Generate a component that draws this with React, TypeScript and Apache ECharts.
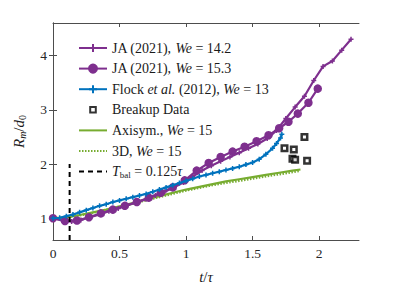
import React, { useEffect, useRef } from "react";
import * as echarts from "echarts";

const xTicks = [0, 0.5, 1, 1.5, 2];
const yTicks = [1, 2, 3, 4];

const ja142: number[][] = [
  [0, 1.0], [0.07, 0.96], [0.14, 0.94], [0.21, 0.97], [0.28, 1.02], [0.35, 1.07], [0.42, 1.13],
  [0.49, 1.18], [0.56, 1.24], [0.63, 1.29], [0.7, 1.35], [0.77, 1.42], [0.84, 1.49], [0.91, 1.57],
  [0.98, 1.66], [1.05, 1.77], [1.12, 1.88], [1.19, 1.97], [1.26, 2.05], [1.33, 2.13], [1.4, 2.21],
  [1.47, 2.29], [1.54, 2.37], [1.61, 2.47], [1.68, 2.62], [1.75, 2.84], [1.82, 3.05], [1.89, 3.25],
  [1.96, 3.54], [2.03, 3.8], [2.1, 3.9], [2.17, 4.1], [2.24, 4.3],
];

const ja153: number[][] = [
  [0, 1.0], [0.09, 0.95], [0.18, 0.96], [0.27, 1.02], [0.36, 1.09], [0.45, 1.16], [0.54, 1.23],
  [0.63, 1.3], [0.72, 1.38], [0.81, 1.47], [0.9, 1.57], [0.99, 1.7], [1.08, 1.88], [1.17, 2.02],
  [1.26, 2.13], [1.35, 2.23], [1.44, 2.32], [1.53, 2.42], [1.62, 2.53], [1.7, 2.66], [1.77, 2.78],
  [1.84, 2.93], [1.92, 3.13], [1.99, 3.39],
];

const flock: number[][] = [
  [0, 1.0], [0.05, 1.01], [0.1, 1.04], [0.15, 1.07], [0.2, 1.11], [0.25, 1.15], [0.3, 1.19],
  [0.35, 1.23], [0.4, 1.26], [0.45, 1.3], [0.5, 1.33], [0.55, 1.36], [0.6, 1.39], [0.65, 1.42],
  [0.7, 1.45], [0.75, 1.49], [0.8, 1.53], [0.85, 1.57], [0.9, 1.61], [0.95, 1.65], [1.0, 1.69],
  [1.05, 1.73], [1.1, 1.77], [1.15, 1.8], [1.2, 1.83], [1.25, 1.86], [1.3, 1.89], [1.35, 1.92],
  [1.4, 1.95], [1.45, 1.99], [1.5, 2.03], [1.55, 2.09], [1.6, 2.18], [1.65, 2.29], [1.68, 2.38],
  [1.71, 2.48], [1.72, 2.55],
];

const breakup: number[][] = [
  [1.89, 2.5], [1.74, 2.29], [1.81, 2.27], [1.8, 2.1], [1.82, 2.08], [1.91, 2.06],
];

const axisym: number[][] = [
  [0, 1.0], [0.1, 1.02], [0.2, 1.06], [0.3, 1.11], [0.4, 1.16], [0.5, 1.22], [0.6, 1.28],
  [0.7, 1.35], [0.8, 1.41], [0.9, 1.47], [1.0, 1.53], [1.1, 1.58], [1.2, 1.63], [1.3, 1.68],
  [1.4, 1.72], [1.5, 1.76], [1.6, 1.8], [1.7, 1.84], [1.8, 1.88], [1.86, 1.9],
];

const threeD: number[][] = [
  [0, 1.0], [0.1, 1.02], [0.2, 1.05], [0.3, 1.1], [0.4, 1.15], [0.5, 1.21], [0.6, 1.27],
  [0.7, 1.33], [0.8, 1.39], [0.9, 1.45], [1.0, 1.51], [1.1, 1.56], [1.2, 1.61], [1.3, 1.65],
  [1.4, 1.69], [1.5, 1.73], [1.6, 1.77], [1.7, 1.81], [1.8, 1.85], [1.85, 1.87],
];

const tbal: number[][] = [[0.125, 0.6], [0.125, 2.0]];

const names = [
  "JA (2021), We = 14.2",
  "JA (2021), We = 15.3",
  "Flock et al. (2012), We = 13",
  "Breakup Data",
  "Axisym., We = 15",
  "3D, We = 15",
  "Tbal = 0.125τ",
];

const richNames: Record<string, string> = {
  [names[0]]: "{n|JA (2021), }{i|We}{n| = 14.2}",
  [names[1]]: "{n|JA (2021), }{i|We}{n| = 15.3}",
  [names[2]]: "{n|Flock }{i|et al.}{n| (2012), }{i|We}{n| = 13}",
  [names[3]]: "{n|Breakup Data}",
  [names[4]]: "{n|Axisym., }{i|We}{n| = 15}",
  [names[5]]: "{n|3D, }{i|We}{n| = 15}",
  [names[6]]: "{i|T}{s|bal}{n| = 0.125}{i|τ}",
};

const PURPLE = "#7E2F8E";
const BLUE = "#0072BD";
const GREEN = "#77AC30";
const FONT = "Liberation Serif";
const PLUS = "path://M-1,0H1M0,-1V1";

export default function App() {
  const ref = useRef<HTMLDivElement>(null);
  useEffect(() => {
    if (!ref.current) return;
    const chart = echarts.init(ref.current, null, { renderer: "svg" });
    const axisLine = { show: true, lineStyle: { color: "#4d4d4d", width: 1 } };
    const tickStyle = { show: true, inside: true, length: 4, lineStyle: { color: "#4d4d4d" } };
    const labelStyle = { fontFamily: FONT, fontSize: 13.5, color: "#262626", margin: 6 };
    const rich = {
      n: { fontFamily: FONT, fontSize: 14, color: "#1a1a1a" },
      i: { fontFamily: FONT, fontSize: 14, fontStyle: "italic", color: "#1a1a1a" },
      s: { fontFamily: FONT, fontSize: 9, color: "#1a1a1a", padding: [6, 0, 0, 0] },
    };
    chart.setOption({
      animation: false,
      grid: { left: 53, right: 40, top: 23, bottom: 44, containLabel: false },
      legend: {
        data: [
          { name: names[0] },
          { name: names[1] },
          { name: names[2] },
          { name: names[3], icon: "path://M0,0M10,10M2.2,2.2H7.8V7.8H2.2Z" },
          { name: names[4], itemStyle: { opacity: 0 } },
          { name: names[5], itemStyle: { opacity: 0 } },
          { name: names[6], itemStyle: { opacity: 0 } },
        ],
        orient: "vertical",
        left: 73,
        top: 36,
        itemWidth: 28,
        itemHeight: 10,
        itemGap: 6.6,
        formatter: (n: string) => richNames[n] || n,
        textStyle: { fontFamily: FONT, fontSize: 14, color: "#1a1a1a", rich },
      },
      xAxis: [
        {
          type: "value",
          min: 0,
          max: 2.3,
          position: "bottom",
          axisLine,
          splitLine: { show: false },
          axisTick: { ...tickStyle, customValues: xTicks },
          axisLabel: { ...labelStyle, customValues: xTicks, formatter: (v: number) => String(v) },
          name: "{i|t}{n|/}{i|τ}",
          nameLocation: "middle",
          nameGap: 29,
          nameTextStyle: { rich: { n: { ...rich.n, fontSize: 15 }, i: { ...rich.i, fontSize: 15 } } },
        },
        {
          type: "value",
          min: 0,
          max: 2.3,
          position: "top",
          axisLine,
          splitLine: { show: false },
          axisTick: { ...tickStyle, customValues: xTicks },
          axisLabel: { show: false },
        },
      ],
      yAxis: [
        {
          type: "value",
          min: 0.6,
          max: 4.6,
          position: "left",
          axisLine,
          splitLine: { show: false },
          axisTick: { ...tickStyle, customValues: yTicks },
          axisLabel: { ...labelStyle, customValues: yTicks, formatter: (v: number) => String(v) },
          name: "{i|R}{ii|m}{n|/}{i|d}{s|0}",
          nameLocation: "middle",
          nameRotate: 90,
          nameGap: 26,
          nameTextStyle: {
            rich: {
              n: { ...rich.n, fontSize: 15 },
              i: { ...rich.i, fontSize: 15 },
              ii: { ...rich.i, fontSize: 10, padding: [6, 0, 0, 0] },
              s: { ...rich.n, fontSize: 10, padding: [6, 0, 0, 0] },
            },
          },
        },
        {
          type: "value",
          min: 0.6,
          max: 4.6,
          position: "right",
          axisLine,
          splitLine: { show: false },
          axisTick: { ...tickStyle, customValues: yTicks },
          axisLabel: { show: false },
        },
      ],
      series: [
        {
          name: names[0],
          type: "line",
          data: ja142,
          symbol: PLUS,
          symbolSize: 5,
          lineStyle: { color: PURPLE, width: 2.2 },
          itemStyle: { color: PURPLE, borderColor: PURPLE, borderWidth: 1.5 },
          z: 5,
        },
        {
          name: names[1],
          type: "line",
          data: ja153,
          symbol: "circle",
          symbolSize: 7,
          lineStyle: { color: PURPLE, width: 2.2 },
          itemStyle: { color: PURPLE, borderColor: PURPLE, borderWidth: 1.5 },
          z: 4,
        },
        {
          name: names[2],
          type: "line",
          data: flock,
          symbol: PLUS,
          symbolSize: 5,
          lineStyle: { color: BLUE, width: 2.2 },
          itemStyle: { color: BLUE, borderColor: BLUE, borderWidth: 1.5 },
          z: 6,
        },
        {
          name: names[3],
          type: "scatter",
          data: breakup,
          symbol: "rect",
          symbolSize: 5.5,
          itemStyle: { color: "#ffffff", borderColor: "#000000", borderWidth: 2.5 },
          z: 7,
        },
        {
          name: names[4],
          type: "line",
          data: axisym,
          showSymbol: false,
          symbol: "none",
          lineStyle: { color: GREEN, width: 2.2 },
          itemStyle: { color: GREEN },
          z: 3,
        },
        {
          name: names[5],
          type: "line",
          data: threeD,
          showSymbol: false,
          symbol: "none",
          lineStyle: { color: GREEN, width: 2.2, type: [1.5, 1.5] },
          itemStyle: { color: GREEN },
          z: 2,
        },
        {
          name: names[6],
          type: "line",
          data: tbal,
          showSymbol: false,
          symbol: "none",
          lineStyle: { color: "#000000", width: 2, type: [5, 4] },
          itemStyle: { color: "#000000" },
          z: 8,
        },
      ],
    });
    return () => chart.dispose();
  }, []);
  return (
    <div
      ref={ref}
      style={{ position: "absolute", left: 0, top: 0, width: 399, height: 289, background: "#fff" }}
    />
  );
}
